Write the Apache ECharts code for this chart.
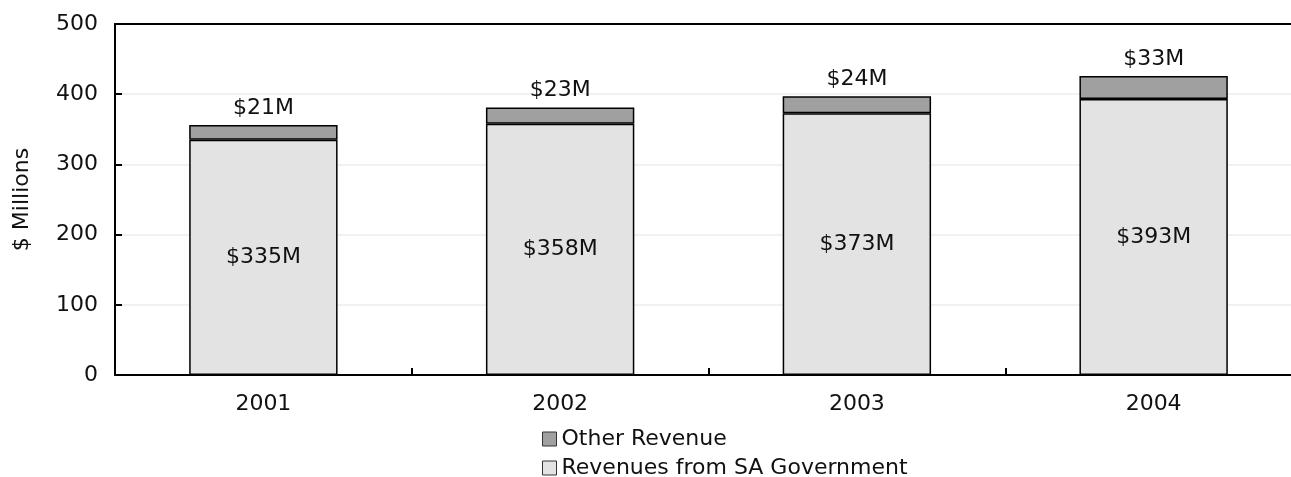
<!DOCTYPE html>
<html>
<head>
<meta charset="utf-8">
<script src="https://cdn.jsdelivr.net/npm/echarts@6/dist/echarts.min.js"></script>
<style>
  html, body { margin: 0; padding: 0; background: #fff; }
  #chart { width: 1291px; height: 477px; }
</style>
</head>
<body>
<div id="chart"></div>
<script>
// Annual revenue, $ millions
const years = ['2001', '2002', '2003', '2004'];
const govRevenue = [335, 358, 373, 393];
const otherRevenue = [21, 23, 24, 33];
const yTicks = [0, 100, 200, 300, 400, 500];

const FONT = '"DejaVu Sans", Verdana, sans-serif';
const TEXT = '#111';
const SIZE = 22;
const money = p => '$' + p.value + 'M';

const chart = echarts.init(document.getElementById('chart'), null, { renderer: 'canvas' });

chart.setOption({
  animation: false,
  textStyle: { fontFamily: FONT },
  grid: {
    left: 115, top: 24, height: 351, width: 1187,
    containLabel: false,
    outerBoundsMode: 'none'
  },
  legend: {
    orient: 'vertical',
    left: 537,
    top: 423,
    height: 60,
    itemWidth: 14,
    itemHeight: 14,
    itemGap: 7,
    icon: 'rect',
    data: ['Other Revenue', 'Revenues from SA Government'],
    textStyle: { fontFamily: FONT, fontSize: SIZE, color: TEXT, lineHeight: 21 },
    itemStyle: { borderColor: '#333', borderWidth: 1 }
  },
  xAxis: [
    {
      type: 'category',
      data: years,
      axisLine: { show: true, lineStyle: { color: '#000', width: 2 } },
      axisTick: { show: true, inside: true, length: 7, alignWithLabel: false, lineStyle: { color: '#000', width: 2 } },
      axisLabel: { color: TEXT, fontSize: SIZE, fontFamily: FONT, margin: 18 },
      splitLine: { show: false }
    },
    {
      // top frame line of the plot
      type: 'category',
      position: 'top',
      data: years,
      axisLine: { show: true, lineStyle: { color: '#000', width: 2 } },
      axisTick: { show: false },
      axisLabel: { show: false },
      splitLine: { show: false }
    }
  ],
  yAxis: {
    type: 'value',
    min: yTicks[0],
    max: yTicks[yTicks.length - 1],
    interval: yTicks[1] - yTicks[0],
    name: '$ Millions',
    nameLocation: 'middle',
    nameRotate: 90,
    nameGap: 82,
    nameTextStyle: { color: TEXT, fontSize: SIZE, fontFamily: FONT },
    axisLine: { show: true, lineStyle: { color: '#000', width: 2 } },
    axisTick: { show: true, inside: true, length: 7, lineStyle: { color: '#000', width: 2 } },
    axisLabel: { color: TEXT, fontSize: SIZE, fontFamily: FONT, margin: 17 },
    splitLine: { lineStyle: { color: '#ececec', width: 1.5 } }
  },
  series: [
    {
      name: 'Revenues from SA Government',
      type: 'bar',
      stack: 'rev',
      barWidth: '50%',
      data: govRevenue,
      itemStyle: { color: '#e3e3e3', borderColor: '#000', borderWidth: 1.5 },
      label: {
        show: true, position: 'inside', color: TEXT, fontSize: SIZE, fontFamily: FONT,
        formatter: money
      }
    },
    {
      name: 'Other Revenue',
      type: 'bar',
      stack: 'rev',
      barWidth: '50%',
      data: otherRevenue,
      itemStyle: { color: '#a0a0a0', borderColor: '#000', borderWidth: 1.5 },
      label: {
        show: true, position: 'top', distance: 6, color: TEXT, fontSize: SIZE, fontFamily: FONT,
        formatter: money
      }
    }
  ]
});
</script>
</body>
</html>
